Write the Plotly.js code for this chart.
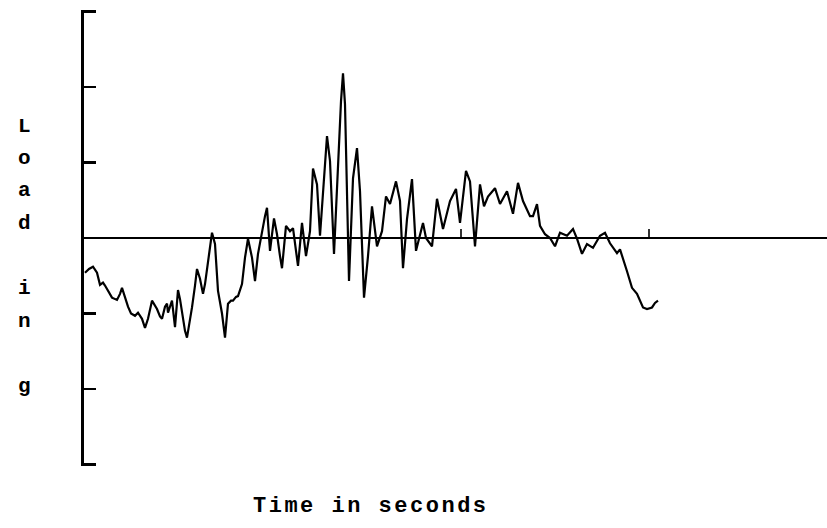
<!DOCTYPE html>
<html>
<head>
<meta charset="utf-8">
<script src="https://cdn.plot.ly/plotly-3.0.1.min.js"></script>
<style>
  html, body { margin: 0; padding: 0; background: #fff; }
  #chart { width: 827px; height: 528px; }
  .annotation-text { letter-spacing: 2.5px; }
</style>
</head>
<body>
<div id="chart"></div>
<script>
// Load record: time (arbitrary chart units) and load (in axis divisions)
const time = [
  1, 5, 9, 13, 16, 19, 21, 24, 28, 33, 36, 38, 41, 44, 47, 51, 54, 58, 61, 64,
  68, 71, 73, 76, 78, 81, 83, 84, 86, 88, 91, 94, 96, 98, 101, 103, 106, 108, 111, 113,
  116, 119, 121, 123, 126, 128, 131, 134, 138, 141, 144, 147, 149, 152, 154, 158, 161, 164, 168, 171,
  174, 178, 181, 183, 186, 190, 193, 196, 198, 202, 206, 209, 214, 218, 220, 222, 226, 229, 233, 236,
  243, 246, 250, 254, 257, 259, 261, 265, 269, 273, 276, 280, 284, 288, 293, 298, 302, 306, 312, 316,
  319, 323, 328, 332, 336, 339, 342, 348, 353, 359, 366, 372, 376, 382, 386, 391, 396, 400, 404, 411,
  416, 423, 429, 434, 439, 446, 449, 453, 456, 461, 466, 471, 476, 483, 489, 493, 498, 503, 509, 516,
  521, 526, 533, 536, 543, 548, 553, 559, 563, 568, 571, 574
];
const load = [
  -0.46, -0.41, -0.38, -0.46, -0.62, -0.59, -0.63, -0.70, -0.79, -0.82, -0.74, -0.66, -0.79, -0.91, -1.00, -1.03, -0.99, -1.07, -1.19, -1.07,
  -0.83, -0.89, -0.94, -1.04, -1.07, -0.91, -0.87, -0.99, -0.91, -0.83, -1.18, -0.69, -0.81, -0.96, -1.23, -1.32, -1.10, -0.92, -0.63, -0.41,
  -0.54, -0.74, -0.61, -0.41, -0.11, 0.07, -0.08, -0.70, -1.00, -1.32, -0.87, -0.83, -0.83, -0.78, -0.77, -0.61, -0.26, -0.01, -0.26, -0.57,
  -0.21, 0.09, 0.29, 0.40, -0.17, 0.26, 0.05, -0.24, -0.40, 0.16, 0.09, 0.13, -0.37, 0.20, -0.04, -0.24, 0.09, 0.92, 0.71, 0.03,
  1.35, 1.02, -0.21, 0.98, 1.81, 2.18, 1.77, -0.57, 0.79, 1.19, 0.62, -0.79, -0.24, 0.42, -0.11, 0.09, 0.55, 0.45, 0.75, 0.49,
  -0.40, 0.25, 0.78, -0.17, 0.03, 0.20, 0.00, -0.11, 0.52, 0.12, 0.49, 0.65, 0.20, 0.89, 0.75, -0.11, 0.71, 0.42, 0.55, 0.66,
  0.45, 0.62, 0.32, 0.73, 0.49, 0.29, 0.29, 0.45, 0.16, 0.05, 0.00, -0.11, 0.07, 0.03, 0.12, -0.01, -0.21, -0.08, -0.13, 0.03,
  0.07, -0.07, -0.20, -0.15, -0.44, -0.66, -0.74, -0.92, -0.94, -0.92, -0.86, -0.83
];
// Short marks standing on the zero line
const markTimes = [377, 565];
const markHeight = 0.12;
// Y axis divisions
const loadTicks = [-3, -2, -1, 0, 1, 2, 3];
// Axis titles
const xTitle = 'Time in seconds';
const yLetters = ['L', 'o', 'a', 'd', 'i', 'n', 'g'];
const yLetterRows = [0, 1, 2, 3, 5, 6, 8];   // typewriter rows, blanks between words

// Frame geometry in pixels
const W = 827, H = 528;
const plotLeft = 84, plotRight = 827, plotTop = 10, plotBottom = 466;
const pw = plotRight - plotLeft, ph = plotBottom - plotTop;
const toPaperX = px => (px - plotLeft) / pw;
const toPaperY = py => (plotBottom - py) / ph;

const typeFont = { family: 'Liberation Mono, DejaVu Sans Mono, monospace', size: 22, color: '#000', weight: 'bold' };

const markX = [], markY = [];
markTimes.forEach(t => { markX.push(t, t, null); markY.push(0, markHeight, null); });

const traces = [
  { x: time, y: load, type: 'scatter', mode: 'lines',
    line: { color: '#000', width: 2.2 }, hoverinfo: 'skip' },
  { x: markX, y: markY, type: 'scatter', mode: 'lines',
    line: { color: '#000', width: 1.6 }, hoverinfo: 'skip' }
];

const annotations = [];
yLetters.forEach((ch, i) => {
  const baseline = 133 + 32.5 * yLetterRows[i];
  annotations.push({
    text: ch, showarrow: false, xref: 'paper', yref: 'paper',
    x: toPaperX(25), y: toPaperY(baseline - 7), xanchor: 'center', yanchor: 'middle',
    font: Object.assign({}, typeFont, { size: 21 })
  });
});
annotations.push({
  text: xTitle, showarrow: false, xref: 'paper', yref: 'paper',
  x: toPaperX(371), y: toPaperY(506), xanchor: 'center', yanchor: 'middle',
  font: typeFont
});

const layout = {
  width: W, height: H,
  margin: { l: plotLeft, r: W - plotRight, t: plotTop, b: H - plotBottom, pad: 0 },
  paper_bgcolor: '#fff', plot_bgcolor: '#fff',
  showlegend: false,
  xaxis: {
    range: [0, pw], showline: false, showgrid: false, zeroline: false,
    showticklabels: false, ticks: '', fixedrange: true
  },
  yaxis: {
    // a hair beyond ±3 so the end divisions are drawn as serifs
    range: [-3.02, 3.02], showline: true, linecolor: '#000', linewidth: 2.6,
    ticks: 'inside', ticklen: 12, tickwidth: 2.4, tickcolor: '#000',
    tickvals: loadTicks, showticklabels: false, showgrid: false,
    zeroline: true, zerolinecolor: '#000', zerolinewidth: 1.8, fixedrange: true
  },
  annotations: annotations
};

Plotly.newPlot('chart', traces, layout, { staticPlot: true, displayModeBar: false });
</script>
</body>
</html>
